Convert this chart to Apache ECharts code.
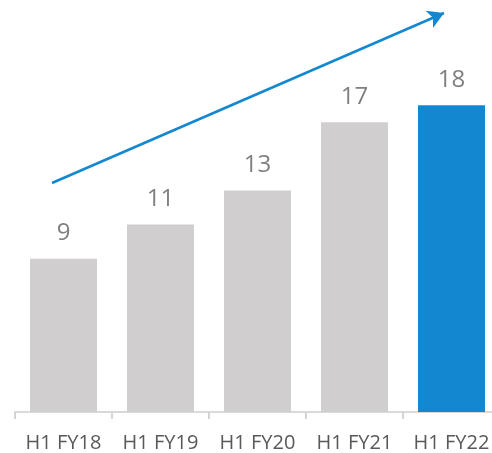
<!DOCTYPE html>
<html>
<head>
<meta charset="utf-8">
<script src="https://cdn.jsdelivr.net/npm/echarts@6/dist/echarts.min.js"></script>
<style>
  html, body { margin: 0; padding: 0; background: #fff; }
  #chart { width: 492px; height: 453px; }
</style>
</head>
<body>
<div id="chart"></div>
<script>
const categories = ['H1 FY18', 'H1 FY19', 'H1 FY20', 'H1 FY21', 'H1 FY22'];
const values = [9, 11, 13, 17, 18];
const highlightIndex = 4;

const chart = echarts.init(document.getElementById('chart'));
chart.setOption({
  animation: false,
  grid: { left: 15, right: -8, top: 3, bottom: 41, outerBoundsMode: 'none', containLabel: false },
  xAxis: {
    type: 'category',
    data: categories,
    boundaryGap: true,
    axisLine: { show: true, lineStyle: { color: '#d9d9d9', width: 2 } },
    axisTick: {
      show: true,
      alignWithLabel: false,
      length: 7,
      interval: 0,
      lineStyle: { color: '#d4d4d4', width: 2 }
    },
    axisLabel: {
      interval: 0,
      hideOverlap: false,
      color: '#595959',
      fontSize: 20,
      fontFamily: 'Open Sans',
      margin: 21
    }
  },
  yAxis: { type: 'value', min: 0, max: 24, show: false },
  series: [{
    type: 'bar',
    barWidth: 67,
    data: values.map((v, i) => ({
      value: v,
      itemStyle: { color: i === highlightIndex ? '#1388d0' : '#d0cece' }
    })),
    label: {
      show: true,
      position: 'top',
      distance: 13,
      color: '#7f7f7f',
      fontSize: 24,
      fontFamily: 'Open Sans'
    },
    markLine: {
      silent: true,
      symbol: ['none', 'arrow'],
      symbolSize: [14, 16],
      label: { show: false },
      lineStyle: { color: '#1388d0', width: 2.5, type: 'solid' },
      data: [[{ x: 52, y: 183 }, { x: 444, y: 13 }]]
    }
  }]
});
</script>
</body>
</html>
